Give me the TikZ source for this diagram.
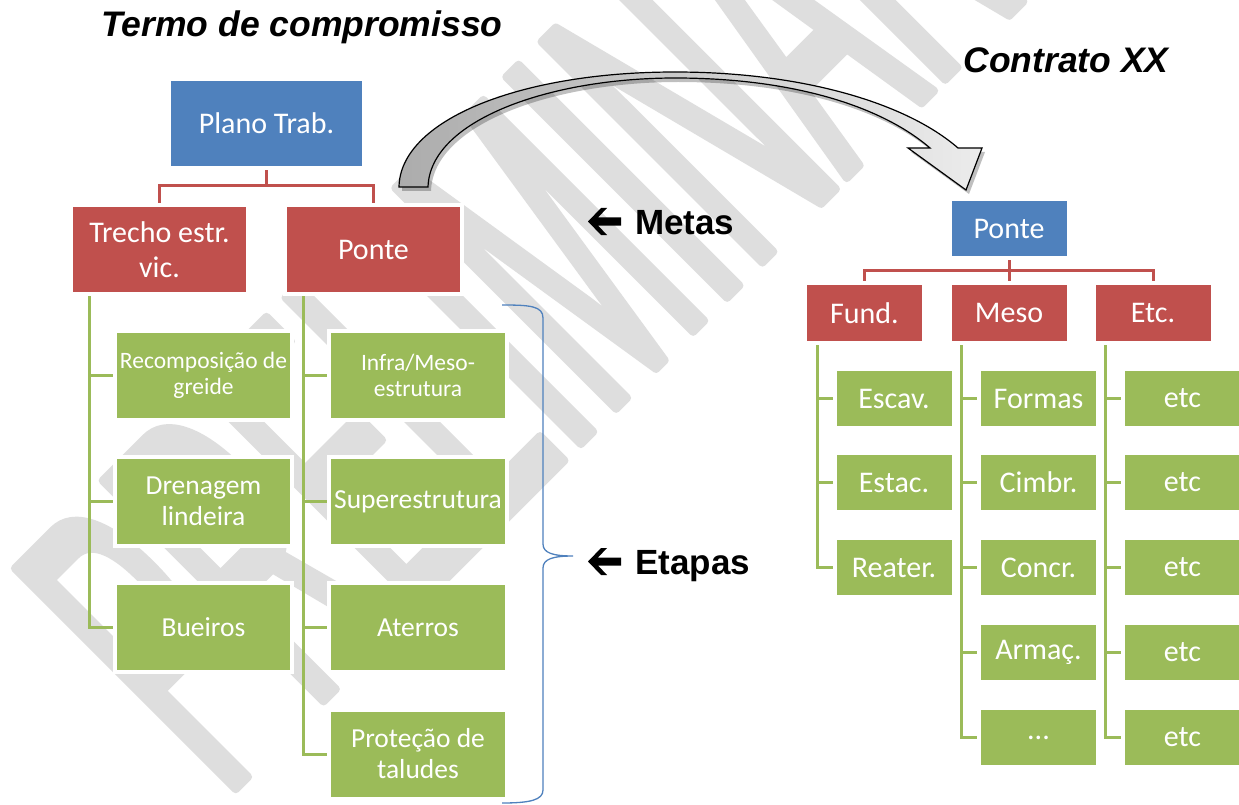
\documentclass[tikz,border=0pt]{standalone}
\usepackage{fontspec}
\setmainfont{Carlito}
\newfontfamily\arialfont{Liberation Sans}
\newfontface\wmfont{Liberation Sans}[FakeStretch=0.41]
\usetikzlibrary{calc}
\pgfdeclarelayer{wm}
\pgfdeclarelayer{bg}
\pgfsetlayers{wm,bg,main}
\definecolor{wmgray}{RGB}{222,222,222}
\definecolor{boxblue}{RGB}{79,129,189}
\definecolor{boxred}{RGB}{192,80,77}
\definecolor{boxgreen}{RGB}{155,187,89}
\newcommand\fsz[2]{\fontsize{#1}{#2}\selectfont}
\newcommand\wmon{\special{pdf:literal direct q 2 Tr 8 w 1 j 1 J}}
\newcommand\wmoff{\special{pdf:literal direct Q}}
\tikzset{
 basebox/.style={rectangle, inner sep=0pt, outer sep=0pt, text=white, align=center, preaction={draw=white, line width=8pt}},
 bluebox/.style={basebox, fill=boxblue, font=\fsz{30}{35}},
 redbox/.style={basebox, fill=boxred, font=\fsz{30}{35}},
 greenbox/.style={basebox, fill=boxgreen, font=\fsz{27.5}{31}},
 smallgreen/.style={greenbox, font=\fsz{23.5}{26}},
 lbox/.style={minimum width=173pt, minimum height=85pt},
 rbox/.style={minimum width=115pt, minimum height=55pt},
 rgreen/.style={basebox, fill=boxgreen, font=\fsz{30}{35}, rbox},
 rline/.style={draw=boxred, line width=3pt},
 gline/.style={draw=boxgreen, line width=3pt},
 title/.style={font=\arialfont\bfseries\itshape\fsz{35.5}{40}, inner sep=0pt, anchor=base},
 lbl/.style={font=\arialfont\bfseries\fsz{35}{40}, inner sep=0pt, anchor=base west},
 wmnode/.style={rotate=45, anchor=base west, inner sep=0pt, outer sep=0pt, text=wmgray, font=\wmfont\fsz{454}{454}},
}
\def\arrowpath{(399,187) .. controls (400,120) and (520,72) .. (675,72) .. controls (800,72) and (905,102) .. (958,148) -- (982,148) -- (966,190) -- (908,148) -- (930,148) .. controls (880,105) and (790,78) .. (675,78) .. controls (550,78) and (430,120) .. (428,187) -- cycle}
\def\leftarrowglyph{-- ++(13,-13.5) -- ++(6,0) -- ++(-9,9.5) -- ++(23,0) -- ++(0,8) -- ++(-23,0) -- ++(9,9.5) -- ++(-6,0) -- cycle}
\begin{document}
\begin{tikzpicture}[x=1pt,y=-1pt]
\useasboundingbox (0,0) rectangle (1239,805);
% watermark
\begin{pgfonlayer}{wm}
 \fill[white] (0,0) rectangle (1239,805);
 \node[wmnode] (wm) at (225,800) {\wmon PRELIMINAR\wmoff};
\end{pgfonlayer}

% titles
\node[title] (t1) at (302,37) {Termo de compromisso};
\node[title] (t2) at (1066,73) {Contrato XX};

% left tree
\node[bluebox, minimum width=191pt, minimum height=85pt] (plano) at (266.5,123.5) {Plano Trab.};
\node[redbox, lbox] (trecho) at (159.5,249.5) {Trecho estr.\\vic.};
\node[redbox, lbox] (ponteL) at (373.5,249.5) {Ponte};
\node[smallgreen, lbox] (g11) at (203.5,375) {Recomposição de\\greide};
\node[greenbox, lbox] (g12) at (203.5,501.5) {Drenagem\\lindeira};
\node[greenbox, lbox] (g13) at (203.5,627.5) {Bueiros};
\node[smallgreen, lbox, minimum width=174pt] (g21) at (418,375) {Infra/Meso-\\estrutura};
\node[greenbox, lbox, minimum width=174pt] (g22) at (418,501.5) {Superestrutura};
\node[greenbox, lbox, minimum width=174pt] (g23) at (418,627.5) {Aterros};
\node[greenbox, lbox, minimum width=174pt] (g24) at (418,754) {Proteção de\\taludes};

% right tree
\node[bluebox, rbox] (ponteR) at (1009,228.5) {Ponte};
\node[redbox, rbox, minimum height=56pt] (fund) at (864.5,313) {Fund.};
\node[redbox, rbox, minimum height=56pt] (meso) at (1009,313) {Meso};
\node[redbox, rbox, minimum height=56pt] (etcR) at (1153,313) {Etc.};
\node[rgreen] (f1) at (894,398.5) {Escav.};
\node[rgreen] (f2) at (894,482.5) {Estac.};
\node[rgreen] (f3) at (894,567.5) {Reater.};
\node[rgreen] (m1) at (1038.5,398.5) {Formas};
\node[rgreen] (m2) at (1038.5,482.5) {Cimbr.};
\node[rgreen] (m3) at (1038.5,567.5) {Concr.};
\node[rgreen] (m4) at (1038.5,652.5) {Armaç.};
\node[rgreen] (m5) at (1038.5,737.5) {...};
\node[rgreen] (e1) at (1182.5,398.5) {etc};
\node[rgreen] (e2) at (1182.5,482.5) {etc};
\node[rgreen] (e3) at (1182.5,567.5) {etc};
\node[rgreen] (e4) at (1182.5,652.5) {etc};
\node[rgreen] (e5) at (1182.5,737.5) {etc};

% connectors
\begin{pgfonlayer}{bg}
 \draw[rline] (plano.south) -- ++(0,20) -| (trecho.north);
 \draw[rline] (plano.south) -- ++(0,20) -| (ponteL.north);
 \coordinate (tk1) at ([xshift=16pt]trecho.south west);
 \coordinate (tk2) at ([xshift=16pt]ponteL.south west);
 \foreach \c in {g11,g12,g13} \draw[gline] (tk1) |- (\c.west);
 \foreach \c in {g21,g22,g23,g24} \draw[gline] (tk2) |- (\c.west);
 \draw[rline] (ponteR.south) -- ++(0,14) -| (fund.north);
 \draw[rline] (ponteR.south) -- ++(0,14) -| (meso.north);
 \draw[rline] (ponteR.south) -- ++(0,14) -| (etcR.north);
 \coordinate (tk3) at ([xshift=10pt]fund.south west);
 \coordinate (tk4) at ([xshift=10pt]meso.south west);
 \coordinate (tk5) at ([xshift=10pt]etcR.south west);
 \foreach \c in {f1,f2,f3} \draw[gline] (tk3) |- (\c.west);
 \foreach \c in {m1,m2,m3,m4,m5} \draw[gline] (tk4) |- (\c.west);
 \foreach \c in {e1,e2,e3,e4,e5} \draw[gline] (tk5) |- (\c.west);
\end{pgfonlayer}

% brace
\draw[boxblue, line width=1.3pt] (502,305) .. controls (530,305) and (543,306) .. (543,318) -- (543,544) .. controls (543,553) and (553,556) .. (573,556) .. controls (553,556) and (543,559) .. (543,568) -- (543,790) .. controls (543,800) and (530,803) .. (502,803);

% labels with block arrows
\coordinate (metasTip) at (588,221.5);
\coordinate (etapasTip) at (588,561.5);
\fill[black] (metasTip) \leftarrowglyph;
\fill[black] (etapasTip) \leftarrowglyph;
\node[lbl] (metas) at (635,234.5) {Metas};
\node[lbl] (etapas) at (635,574.5) {Etapas};

% curved block arrow
\fill[black, opacity=.25, shift={(3,4)}] \arrowpath;
\shadedraw[left color=gray!65, right color=gray!15, draw=black, line width=1.2pt] \arrowpath;
\end{tikzpicture}
\end{document}
